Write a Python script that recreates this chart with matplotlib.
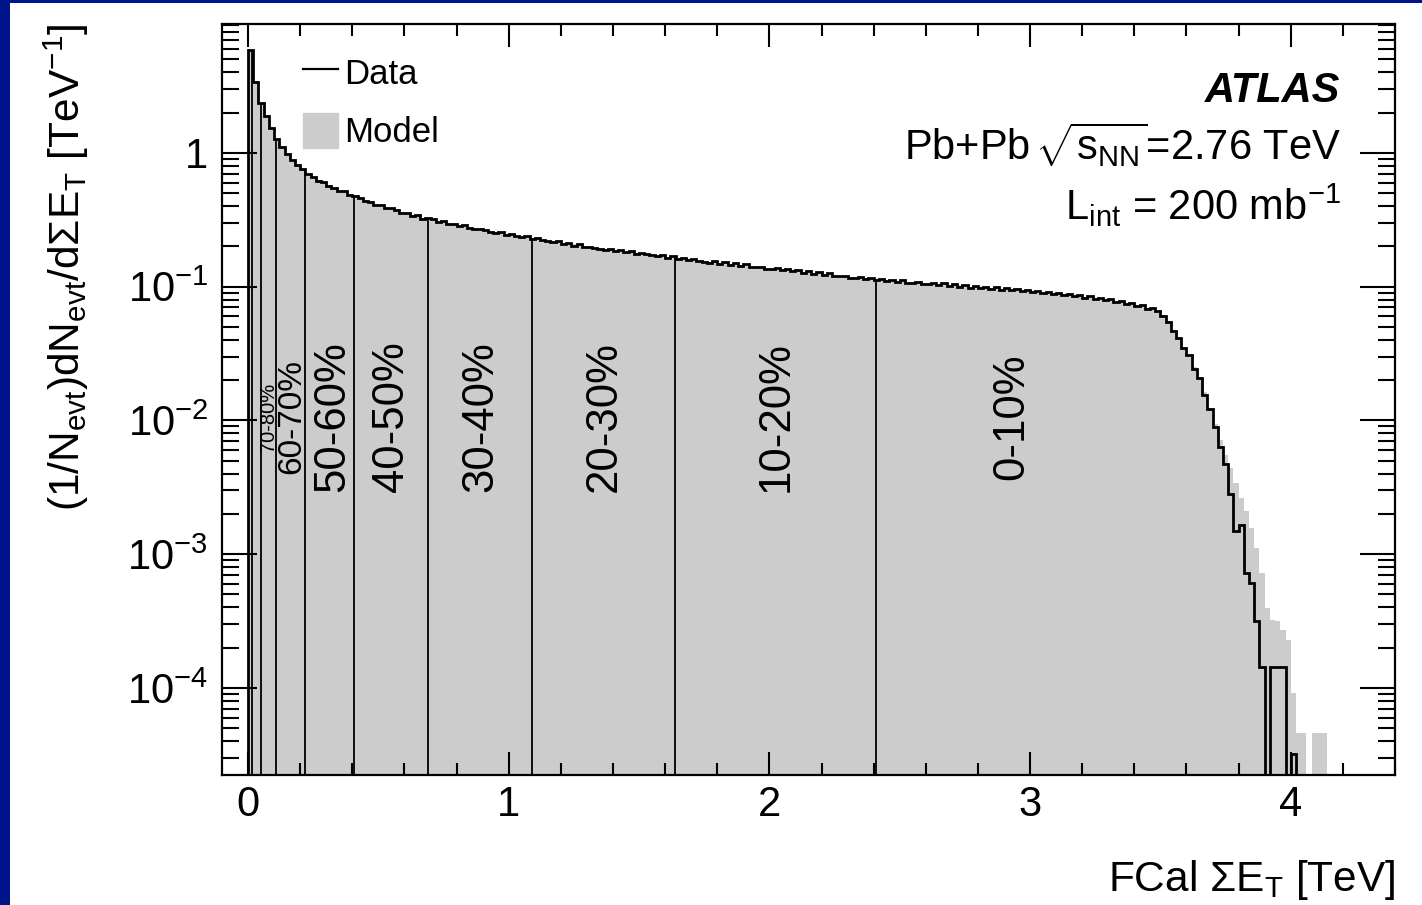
import numpy as np
import matplotlib
matplotlib.use("Agg")
import matplotlib.pyplot as plt
from matplotlib.patches import Rectangle, Patch
from matplotlib.lines import Line2D
from matplotlib.ticker import MultipleLocator, LogLocator, NullFormatter, FuncFormatter

plt.rcParams["font.family"] = ["Liberation Sans", "DejaVu Sans"]
plt.rcParams["mathtext.fontset"] = "custom"
plt.rcParams["mathtext.rm"] = "Liberation Sans"
plt.rcParams["mathtext.it"] = "Liberation Sans:italic"
plt.rcParams["mathtext.bf"] = "Liberation Sans:bold"

# FCal sum E_T histogram, 0.02 TeV bins from 0 to 4.2 TeV
bin_width = 0.02
n_bins = 210

data = [
    5.85, 3.38, 2.36, 1.88, 1.53, 1.28, 1.11, 0.984, 0.887, 0.809,
    0.752, 0.694, 0.664, 0.619, 0.601, 0.563, 0.551, 0.522, 0.515, 0.484,
    0.476, 0.461, 0.437, 0.432, 0.411, 0.409, 0.386, 0.384, 0.376, 0.356,
    0.357, 0.340, 0.341, 0.323, 0.326, 0.318, 0.303, 0.308, 0.292, 0.296,
    0.283, 0.287, 0.276, 0.270, 0.269, 0.263, 0.258, 0.252, 0.256, 0.244,
    0.247, 0.238, 0.235, 0.238, 0.226, 0.231, 0.222, 0.219, 0.214, 0.218,
    0.210, 0.213, 0.203, 0.208, 0.198, 0.199, 0.196, 0.192, 0.189, 0.192,
    0.184, 0.188, 0.180, 0.184, 0.176, 0.178, 0.175, 0.171, 0.169, 0.171,
    0.165, 0.168, 0.160, 0.164, 0.157, 0.162, 0.155, 0.154, 0.151, 0.155,
    0.148, 0.152, 0.146, 0.149, 0.143, 0.147, 0.140, 0.141, 0.140, 0.136,
    0.135, 0.139, 0.133, 0.135, 0.130, 0.134, 0.127, 0.130, 0.125, 0.128,
    0.123, 0.127, 0.120, 0.121, 0.121, 0.117, 0.116, 0.119, 0.114, 0.117,
    0.112, 0.115, 0.110, 0.113, 0.109, 0.112, 0.107, 0.107, 0.109, 0.105,
    0.104, 0.107, 0.103, 0.106, 0.101, 0.105, 0.100, 0.103, 0.0985, 0.101,
    0.0975, 0.100, 0.0962, 0.0990, 0.0950, 0.0975, 0.0938, 0.0962, 0.0925, 0.0948,
    0.0912, 0.0935, 0.0898, 0.0918, 0.0880, 0.0902, 0.0866, 0.0884, 0.0848, 0.0866,
    0.0828, 0.0846, 0.0808, 0.0826, 0.0788, 0.0806, 0.0765, 0.0782, 0.0745, 0.0758,
    0.0714, 0.0726, 0.0684, 0.0692, 0.0655, 0.0608, 0.0545, 0.0462, 0.0415, 0.0348,
    0.0307, 0.0244, 0.0209, 0.0155, 0.0121, 0.00891, 0.00631, 0.00468, 0.00282, 0.00150,
    0.00165, 7.2e-4, 6.1e-4, 3.16e-4, 1.44e-4, 0, 1.44e-4, 1.44e-4, 1.44e-4, 0,
    3.2e-5, 0, 0, 0, 0, 0, 0, 0, 0, 0,
]

model = [
    6.03, 3.47, 2.40, 1.91, 1.55, 1.29, 1.12, 0.989, 0.891, 0.813,
    0.750, 0.700, 0.661, 0.624, 0.596, 0.569, 0.547, 0.527, 0.509, 0.490,
    0.473, 0.457, 0.442, 0.428, 0.415, 0.403, 0.392, 0.381, 0.371, 0.361,
    0.352, 0.344, 0.336, 0.328, 0.321, 0.314, 0.308, 0.303, 0.297, 0.292,
    0.286, 0.282, 0.277, 0.272, 0.268, 0.264, 0.259, 0.255, 0.251, 0.248,
    0.244, 0.240, 0.237, 0.233, 0.230, 0.227, 0.224, 0.221, 0.218, 0.215,
    0.212, 0.209, 0.207, 0.204, 0.201, 0.199, 0.196, 0.194, 0.192, 0.189,
    0.187, 0.185, 0.183, 0.181, 0.179, 0.177, 0.175, 0.173, 0.171, 0.169,
    0.167, 0.165, 0.163, 0.161, 0.160, 0.158, 0.157, 0.155, 0.154, 0.152,
    0.151, 0.149, 0.148, 0.147, 0.145, 0.144, 0.143, 0.141, 0.140, 0.138,
    0.137, 0.136, 0.135, 0.133, 0.132, 0.131, 0.129, 0.128, 0.127, 0.126,
    0.125, 0.124, 0.122, 0.121, 0.120, 0.119, 0.118, 0.117, 0.116, 0.115,
    0.114, 0.113, 0.112, 0.111, 0.111, 0.110, 0.109, 0.108, 0.108, 0.107,
    0.106, 0.105, 0.105, 0.104, 0.103, 0.103, 0.102, 0.101, 0.100, 0.0998,
    0.0991, 0.0984, 0.0977, 0.0971, 0.0964, 0.0957, 0.0951, 0.0944, 0.0938, 0.0931,
    0.0925, 0.0918, 0.0910, 0.0902, 0.0893, 0.0885, 0.0877, 0.0867, 0.0859, 0.0849,
    0.0839, 0.0830, 0.0820, 0.0809, 0.0798, 0.0787, 0.0776, 0.0764, 0.0752, 0.0738,
    0.0724, 0.0710, 0.0693, 0.0675, 0.0652, 0.0617, 0.0537, 0.0468, 0.0407, 0.0355,
    0.0302, 0.0251, 0.0204, 0.0162, 0.0123, 0.00933, 0.00708, 0.00550, 0.00437, 0.00339,
    0.00263, 0.00209, 0.00158, 0.00112, 7.24e-4, 3.98e-4, 3.24e-4, 3.16e-4, 2.69e-4, 2.29e-4,
    9.1e-5, 4.6e-5, 4.6e-5, 0, 4.6e-5, 4.6e-5, 4.6e-5, 0, 0, 0,
]

# centrality class boundaries in FCal sum E_T [TeV]
cent_edges = [0.014, 0.049, 0.107, 0.219, 0.407, 0.690, 1.089, 1.638, 2.408]
cent_labels = ["70-80%", "60-70%", "50-60%", "40-50%", "30-40%", "20-30%", "10-20%", "0-10%"]

x_ticks = [0, 1, 2, 3, 4]
y_ticks = [1e-4, 1e-3, 1e-2, 1e-1, 1]

# ---------------------------------------------------------------------------
W, H = 1422, 905
fig = plt.figure(figsize=(W / 100, H / 100), dpi=100)
fig.patch.set_facecolor("white")
ax = fig.add_axes([222 / W, (H - 775) / H, (1395 - 222) / W, (775 - 24) / H])

edges = np.round(np.arange(n_bins + 1) * bin_width, 4)
data_a = np.asarray(data, dtype=float)
model_a = np.asarray(model, dtype=float)
floor = 1e-9

ax.set_yscale("log")
ax.set_xlim(-0.1, 4.4)
ax.set_ylim(2.23e-5, 9.2)

ax.stairs(np.where(model_a > 0, model_a, floor), edges, baseline=floor,
          fill=True, color="#cccccc", lw=0, zorder=1)
ax.stairs(np.where(data_a > 0, data_a, floor), edges, baseline=floor,
          color="black", lw=2.0, zorder=3)

# boundaries drawn up to the data histogram
idx = np.clip(np.searchsorted(edges, cent_edges, side="right") - 1, 0, n_bins - 1)
ax.vlines(cent_edges, 1e-9, data_a[idx], color="black", lw=1.3, zorder=2)

label_sizes = [14.5, 24, 31.5, 31.5, 31.5, 31.5, 31.5, 31.5]
label_x = [0.077, 0.169, 0.326, 0.552, 0.894, 1.365, 2.025, 2.93]
for lx, txt, fs in zip(label_x, cent_labels, label_sizes):
    ax.text(lx, 0.0106, txt, rotation=90, ha="center", va="center",
            fontsize=fs, zorder=4)

# axes styling
for sp in ax.spines.values():
    sp.set_linewidth(1.6)
    sp.set_zorder(5)

ax.xaxis.set_major_locator(MultipleLocator(1))
ax.xaxis.set_minor_locator(MultipleLocator(0.2))
ax.set_xticks(x_ticks)
ax.xaxis.set_major_formatter(FuncFormatter(lambda v, p: f"{v:g}"))
ax.set_yticks(y_ticks)
ax.yaxis.set_minor_locator(LogLocator(base=10, subs=np.arange(2, 10), numticks=30))
ax.yaxis.set_minor_formatter(NullFormatter())


def ylab(v, p):
    if abs(v - 1) < 1e-9:
        return "1"
    return r"$\mathregular{10^{%d}}$" % int(round(np.log10(v)))


ax.yaxis.set_major_formatter(FuncFormatter(ylab))

ax.tick_params(which="both", direction="in", top=True, right=True, width=1.5)
ax.tick_params(axis="x", which="major", length=16.5, labelsize=30, pad=7)
ax.tick_params(axis="x", which="minor", length=8.5)
ax.tick_params(axis="y", which="major", length=25, labelsize=30, pad=10)
ax.tick_params(axis="y", which="minor", length=12.5)

ax.set_xlabel(r"FCal ΣE$_{\mathrm{T}}$ [TeV]", fontsize=30.5, loc="right")
ax.xaxis.set_label_coords(1.0, -0.11)
ax.xaxis.label.set_va("top")
ax.set_ylabel(r"(1/N$_{\mathrm{evt}}$)dN$_{\mathrm{evt}}$/dΣE$_{\mathrm{T}}$ [TeV$^{\mathrm{-1}}$]",
              fontsize=30.5, loc="top")
ax.yaxis.set_label_coords(-0.112, 1.0)

# legend
handles = [Line2D([], [], color="black", lw=1.6),
           Patch(facecolor="#cccccc", edgecolor="#cccccc")]
ax.legend(handles, ["Data", "Model"], loc="upper left", bbox_to_anchor=(0.069, 0.960),
          frameon=False, fontsize=25, handlelength=1.0, handleheight=1.2,
          handletextpad=0.2, labelspacing=0.64, borderpad=0, borderaxespad=0)

# experiment labels
tx = 0.9535
ax.text(tx, 0.8965, "ATLAS", transform=ax.transAxes, ha="right", va="baseline",
        fontsize=30, fontweight="bold", fontstyle="italic")
ax.text(tx, 0.819, r"Pb+Pb $\!\sqrt{\mathrm{s}_{\mathrm{NN}}}$=2.76 TeV", transform=ax.transAxes,
        ha="right", va="baseline", fontsize=30)
ax.text(tx, 0.739, r"L$_{\mathrm{int}}$ = 200 mb$^{\mathrm{-1}}$", transform=ax.transAxes,
        ha="right", va="baseline", fontsize=30)

# slide border
blue = "#00148c"
fig.add_artist(Rectangle((0, 0), 10 / W, 1, transform=fig.transFigure,
                         facecolor=blue, edgecolor="none", zorder=10))
fig.add_artist(Rectangle((0, 1 - 3 / H), 1, 3 / H, transform=fig.transFigure,
                         facecolor=blue, edgecolor="none", zorder=10))

fig.savefig("out.png", dpi=100)
